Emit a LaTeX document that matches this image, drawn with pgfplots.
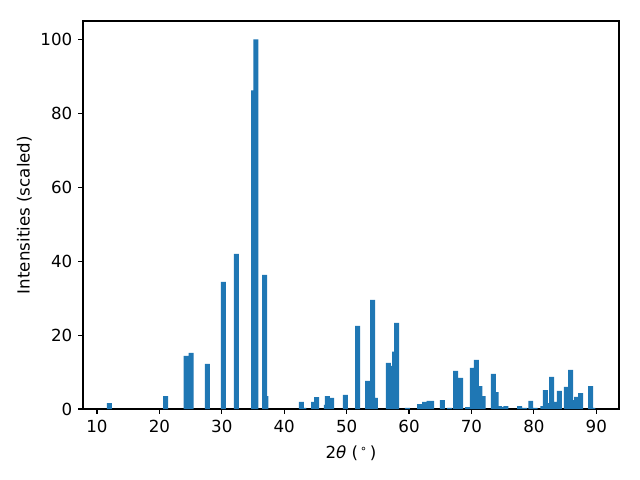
\documentclass[12pt,border=0pt]{standalone}
\usepackage{fontspec}
\setmainfont{DejaVu Sans}
\usepackage{pgfplots}
\pgfplotsset{compat=1.18}
\definecolor{mplblue}{HTML}{1F77B4}

\begin{document}
\begin{tikzpicture}
\useasboundingbox (-59.76pt,-51.12pt) rectangle (401.04pt,294.48pt);
\begin{axis}[
  scale only axis,
  width=385.92pt, height=279.36pt,
  at={(0,0)}, anchor=south west,
  xmin=7.76, xmax=93.64, ymin=0, ymax=105,
  xtick={10,20,...,90}, ytick={0,20,...,100},
  xtick pos=left, ytick pos=left,
  tick align=outside, major tick length=3.5pt,
  tick style={black, line width=0.8pt},
  axis line style={line width=0.8pt},
  /pgf/number format/assume math mode=true,
  ticklabel style={font=\fontsize{12}{14}\selectfont},
  label style={font=\fontsize{12}{14}\selectfont},
  xlabel={2\textit{θ} (\kern1.5pt\textsuperscript{∘}\kern1.5pt)},
  ylabel={Intensities (scaled)},
  xlabel shift=1.5pt, ylabel shift=-2pt,
  ybar, bar width=0.8,
]
\addplot[draw=none, fill=mplblue] coordinates {
  (12.0,1.6) (21.0,3.5) (24.3,14.4) (25.1,15.2) (27.7,12.2)
  (30.25,34.4) (32.35,42.0) (35.1,86.2) (35.45,100)
  (37.05,3.5) (36.85,36.3)
  (42.75,1.9) (43.15,0.3) (44.7,1.9) (45.2,3.2)
  (46.75,1.1) (46.9,3.5) (47.6,3.0) (49.8,3.8)
  (51.75,22.5) (53.35,7.6) (54.15,29.5) (54.6,3.0)
  (56.7,12.5) (57.45,11.7) (57.7,15.5) (58.0,23.3)
  (59.75,0.3) (61.7,1.35) (62.5,1.9) (63.2,2.2) (63.6,2.2)
  (65.35,2.4) (66.5,0.3) (67.45,10.3) (68.25,8.4)
  (69.4,0.5) (70.15,11.1) (71.85,3.5) (71.35,6.2) (70.8,13.3)
  (73.5,9.5) (73.95,4.6) (74.5,0.8) (74.95,0.5) (75.5,0.8)
  (77.7,0.8) (78.5,0.3) (79.5,2.2) (80.2,0.3)
  (81.45,0.8) (81.85,5.1) (82.67,1.6) (82.83,8.7)
  (83.54,1.9) (84.1,4.9) (85.2,6.0) (85.9,10.6)
  (86.5,2.4) (86.83,3.3) (87.5,4.3) (89.1,6.2) (89.45,0.3)
};
\end{axis}
\end{tikzpicture}
\end{document}
